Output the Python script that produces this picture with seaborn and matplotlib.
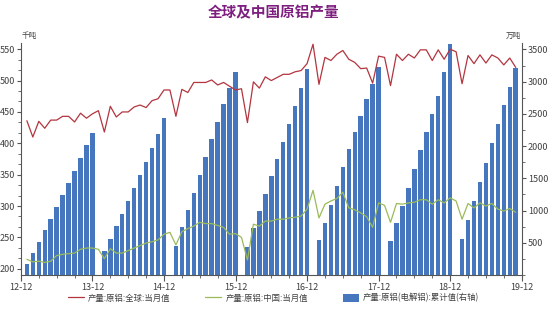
import numpy as np
import pandas as pd
import matplotlib
matplotlib.use("Agg")
import matplotlib.pyplot as plt
import seaborn as sns
from matplotlib.ticker import MultipleLocator
from matplotlib.patches import Patch
from matplotlib.lines import Line2D

# ---------------- data ----------------
title = "全球及中国原铝产量"
left_unit = "千吨"
right_unit = "万吨"
x_tick_labels = ["12-12", "13-12", "14-12", "15-12", "16-12", "17-12", "18-12", "19-12"]
legend_labels = ["产量:原铝:全球:当月值", "产量:原铝:中国:当月值", "产量:原铝(电解铝):累计值(右轴)"]

# monthly series, 2013-01 .. 2019-11
line_months = pd.period_range("2013-01", "2019-11", freq="M")
global_monthly = [
    436, 410, 435, 424, 437, 437, 443, 443, 434, 448, 440, 447,
    452, 418, 459, 442, 450, 450, 458, 461, 457, 468, 471, 485,
    485, 443, 486, 481, 497, 497, 497, 501, 493, 497, 491, 485,
    487, 433, 498, 488, 506, 500, 505, 510, 510, 514, 516, 527,
    558, 494, 537, 532, 542, 548, 534, 529, 519, 520, 496, 539,
    537, 492, 542, 532, 542, 536, 549, 549, 532, 549, 534, 550,
    546, 495, 540, 527, 541, 528, 541, 536, 525, 536, 521,
]
china_monthly = [
    215, 211, 212, 210, 212, 221, 223, 224, 225, 231, 233, 233,
    231, 216, 232, 225, 225, 229, 233, 237, 241, 243, 246, 255,
    258, 238, 259, 264, 268, 274, 272, 272, 269, 266, 255, 256,
    250, 214, 271, 268, 276, 276, 279, 279, 281, 282, 284, 295,
    325, 281, 303, 308, 312, 322, 297, 294, 289, 283, 266, 305,
    301, 274, 304, 303, 305, 306, 310, 310, 303, 310, 305, 313,
    308, 279, 304, 297, 305, 300, 304, 295, 292, 296, 290,
]

# cumulative (right axis), per year; first month of each listed run
cum_2013 = [172, 347, 518, 694, 865, 1056, 1246, 1432, 1618, 1815, 2012, 2203]  # Jan-Dec
cum_2014 = [369, 564, 766, 952, 1144, 1345, 1552, 1758, 1965, 2192, 2435]        # Feb-Dec
cum_2015 = [451, 741, 1009, 1277, 1556, 1831, 2105, 2378, 2647, 2905, 3143]
cum_2016 = [440, 725, 989, 1257, 1531, 1795, 2063, 2342, 2616, 2900, 3190]
cum_2017 = [544, 812, 1091, 1381, 1680, 1955, 2218, 2466, 2725, 2957, 3221]
cum_2018 = [524, 808, 1076, 1355, 1645, 1939, 2218, 2497, 2771, 3143, 3582]
cum_2019 = [560, 849, 1144, 1438, 1733, 2043, 2337, 2637, 2920, 3205]            # Feb-Nov
cum_runs = [("2013-01", cum_2013), ("2014-02", cum_2014), ("2015-02", cum_2015),
            ("2016-02", cum_2016), ("2017-02", cum_2017), ("2018-02", cum_2018),
            ("2019-02", cum_2019)]

# ---------------- frames ----------------
origin = pd.Period("2012-12", freq="M")


def month_index(p):
    return (p - origin).n


df_line = pd.DataFrame({
    "x": [month_index(p) for p in line_months],
    "global": global_monthly,
    "china": china_monthly,
})

bar_x, bar_v = [], []
for start, vals in cum_runs:
    per = pd.period_range(start, periods=len(vals), freq="M")
    bar_x += [month_index(p) for p in per]
    bar_v += vals
df_bar = pd.DataFrame({"x": bar_x, "cum": bar_v})

# ---------------- style ----------------
sns.set_theme(style="white")
plt.rcParams["font.family"] = ["Noto Sans CJK SC", "DejaVu Sans"]
plt.rcParams["axes.unicode_minus"] = False

red = "#B3353F"
green = "#9BBB59"
blue = "#4677BE"
axis_col = "#555555"
text_col = "#404040"

fig = plt.figure(figsize=(5.5, 3.09), dpi=100)
ax = fig.add_axes([0.038, 0.110, 0.9105, 0.751])
ax2 = ax.twinx()

sns.barplot(data=df_bar, x="x", y="cum", native_scale=True, ax=ax2,
            color=blue, saturation=1, width=0.75, linewidth=0)
sns.lineplot(data=df_line, x="x", y="global", ax=ax, color=red, linewidth=0.9)
sns.lineplot(data=df_line, x="x", y="china", ax=ax, color=green, linewidth=0.9)

ax.set_zorder(ax2.get_zorder() + 1)
ax.patch.set_visible(False)

ax.set_xlim(0, 84)
ax.set_ylim(190, 560)
ax2.set_ylim(0, 3600)

ax.set_xticks(range(0, 85, 12))
ax.set_xticklabels(x_tick_labels)
ax.xaxis.set_minor_locator(MultipleLocator(3))
ax.set_yticks(range(200, 551, 50))
ax.yaxis.set_minor_locator(MultipleLocator(50 / 3))
ax2.set_yticks(range(500, 3501, 500))
ax2.yaxis.set_minor_locator(MultipleLocator(250))

for a in (ax, ax2):
    a.set_xlabel("")
    a.set_ylabel("")
    a.grid(False)
    for s in a.spines.values():
        s.set_color(axis_col)
        s.set_linewidth(0.8)
    a.spines["top"].set_visible(False)

ax.spines["right"].set_visible(False)
ax2.spines["left"].set_visible(False)
ax2.spines["bottom"].set_visible(False)

ax.tick_params(axis="x", which="major", bottom=True, length=4, width=0.8,
               color=axis_col, labelsize=6.5, labelcolor=text_col, pad=1.5)
ax.tick_params(axis="x", which="minor", bottom=True, length=2.5, width=0.6, color=axis_col)
ax.tick_params(axis="y", which="major", left=True, length=3, width=0.8,
               color=axis_col, labelsize=6.5, labelcolor=text_col, pad=1.5)
ax.tick_params(axis="y", which="minor", left=True, length=2, width=0.6, color=axis_col)
ax2.tick_params(axis="y", which="major", right=True, left=False, length=3, width=0.8,
                color=axis_col, labelsize=6.5, labelcolor=text_col, pad=1.5)
ax2.tick_params(axis="y", which="minor", right=True, left=False, length=2, width=0.6,
                color=axis_col)
ax2.tick_params(axis="x", which="both", bottom=False, top=False, labelbottom=False)

fig.text(0.497, 1 - 12 / 309, title, ha="center", va="center", fontsize=10.5,
         fontweight="bold", color="#7E1F80")
fig.text(22 / 550, 1 - 36 / 309, left_unit, ha="left", va="center", fontsize=5.5,
         color=text_col)
fig.text(521 / 550, 1 - 36 / 309, right_unit, ha="right", va="center", fontsize=5.5,
         color=text_col)

handles = [Line2D([], [], color=red, lw=0.9), Line2D([], [], color=green, lw=0.9),
           Patch(facecolor=blue, edgecolor="none")]
fig.legend(handles, legend_labels, loc="center", bbox_to_anchor=(0.497, 1 - 298 / 309),
           ncol=3, frameon=False, fontsize=6, handlelength=1.9, handleheight=1.1,
           handletextpad=0.5, columnspacing=4.2, labelcolor=text_col)

fig.savefig("out.png", dpi=100)
